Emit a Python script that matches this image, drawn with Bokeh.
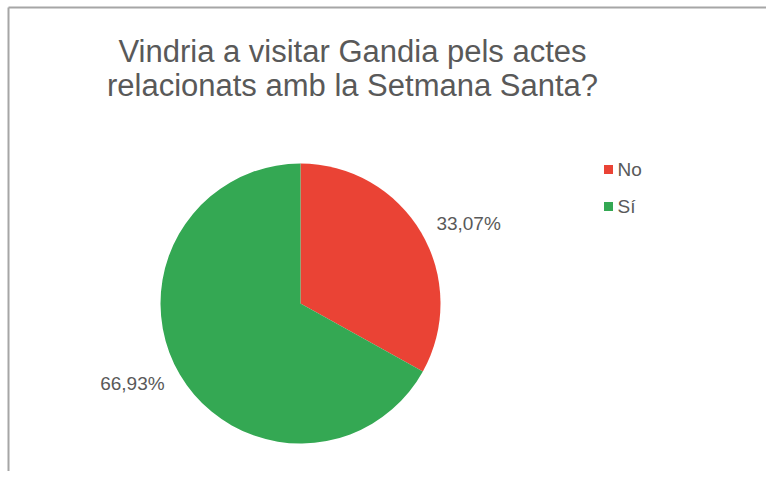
import math
from bokeh.plotting import figure
from bokeh.models import Range1d
from bokeh.core.properties import value
from bokeh.embed import file_html
from bokeh.resources import INLINE

# ---- data ----
categories = ["No", "Sí"]
percentages = [33.07, 66.93]
labels = ["33,07%", "66,93%"]
colors = ["#EA4335", "#34A853"]
title_lines = ["Vindria a visitar Gandia pels actes",
               "relacionats amb la Setmana Santa?"]

W, H = 766, 471
FONT = "Liberation Sans"
TEXT_COLOR = "#595959"

p = figure(width=W, height=H, output_backend="svg", toolbar_location=None,
           x_range=Range1d(0, W), y_range=Range1d(0, H), min_border=0)
p.axis.visible = False
p.grid.visible = False
p.outline_line_color = None
p.background_fill_color = "white"
p.border_fill_color = "white"

def sy(img_y):
    # image y (from top) -> data y
    return H - img_y

def sx(img_x):
    return img_x

# border (left and top only, chart was cropped)
p.segment(x0=[sx(8), sx(8)], y0=[sy(7), sy(7)], x1=[sx(8), W], y1=[0, sy(7)],
          line_color="#a6a6a6", line_width=2)

# title
p.text(x=[sx(352)] * 2, y=[sy(51), sy(85)], text=title_lines,
       text_font=value(FONT), text_font_size="31px", text_color=TEXT_COLOR,
       text_align="center", text_baseline="alphabetic")

# pie
cx, cy, r = sx(300), sy(303), 140
total = sum(percentages)
start = math.pi / 2
starts, ends, mids = [], [], []
for v in percentages:
    sweep = 2 * math.pi * v / total
    end = start - sweep
    starts.append(end)
    ends.append(start)
    mids.append((start + end) / 2)
    start = end

p.wedge(x=[cx] * len(categories), y=[cy] * len(categories), radius=r,
        radius_units="screen", start_angle=starts, end_angle=ends,
        fill_color=colors, line_color=None)

# labels outside
lx, ly = [], []
for m in mids:
    a = m - math.radians(5)
    lx.append(cx + 1.33 * r * math.cos(a))
    ly.append(cy + 1.33 * r * math.sin(a))
p.text(x=lx, y=ly, text=labels, text_font=value(FONT), text_font_size="19px",
       text_color=TEXT_COLOR, text_align="center", text_baseline="middle")

# legend
leg_y = [sy(169), sy(206)]
p.scatter(x=[sx(608)] * 2, y=leg_y, marker="square", size=9,
          fill_color=colors, line_color=None)
p.text(x=[sx(617)] * 2, y=leg_y, text=categories, text_font=value(FONT),
       text_font_size="19px", text_color=TEXT_COLOR, text_align="left",
       text_baseline="middle")

open("out.html", "w").write(file_html(p, INLINE))
